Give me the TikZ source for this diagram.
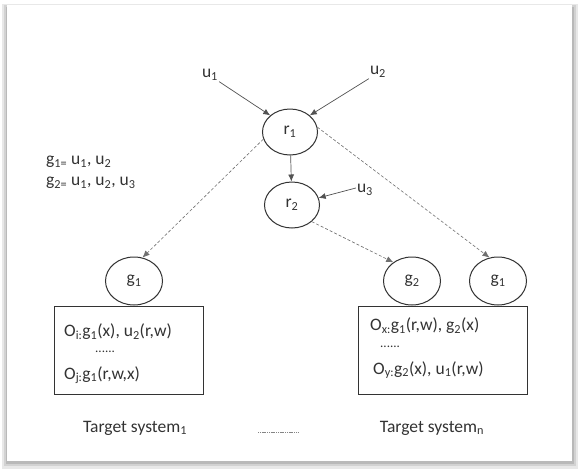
\documentclass[tikz,border=0pt]{standalone}
\usepackage{fontspec}
\setmainfont{Carlito}
\usetikzlibrary{shapes.geometric,arrows.meta}
\definecolor{ink}{HTML}{333333}
\tikzset{
  lbl/.style={font=\fontsize{17.5}{20}\selectfont, inner sep=1pt, text=ink},
  st/.style={font=\fontsize{17.5}{20}\selectfont, inner sep=0pt, anchor=west, text=ink},
  rnode/.style={ellipse, draw=ink, line width=1pt, minimum width=55pt, minimum height=46pt, inner sep=0pt, text=ink, font=\fontsize{17.5}{20}\selectfont},
  gnode/.style={ellipse, draw=ink, line width=1pt, minimum width=57pt, minimum height=48pt, inner sep=0pt, text=ink, font=\fontsize{17.5}{20}\selectfont},
  obox/.style={rectangle, draw=ink, line width=1pt, minimum height=88pt, inner sep=0pt},
  solidarrow/.style={draw=ink!85, line width=0.7pt, -{Latex[length=7pt,width=6pt]}},
  dasharrow/.style={draw=ink!70, line width=0.6pt, dash pattern=on 3pt off 2pt, -{Latex[length=7pt,width=6pt]}}
}
\begin{document}
\begin{tikzpicture}[x=1pt,y=-1pt]
\useasboundingbox (0,0) rectangle (581,474);
% frame with shadow
\fill[gray!18] (2,4) rectangle (578,469);
\fill[gray!35] (4,5) rectangle (576,466);
\fill[gray!55] (6,7) rectangle (574,464);
\fill[white] (7,5) rectangle (572,461);

% nodes
\node[lbl] (u1) at (210,75) {u\textsubscript{1}};
\node[lbl] (u2) at (378,72) {u\textsubscript{2}};
\node[lbl] (u3) at (365,190) {u\textsubscript{3}};
\node[rnode] (r1) at (290,132) {r\textsubscript{1}};
\node[rnode] (r2) at (292,205) {r\textsubscript{2}};

\node[st] (def1) at (46,162) {g\textsubscript{1=} u\textsubscript{1}, u\textsubscript{2}};
\node[st] (def2) at (46,183) {g\textsubscript{2=} u\textsubscript{1}, u\textsubscript{2}, u\textsubscript{3}};

\node[gnode] (g1a) at (134,281) {g\textsubscript{1}};
\node[gnode] (g2) at (412,281) {g\textsubscript{2}};
\node[gnode] (g1b) at (498,281) {g\textsubscript{1}};

\node[obox, minimum width=149pt] (box1) at (128.5,350) {};
\node[obox, minimum width=169pt] (box2) at (442.5,350) {};

\node[st] (o1) at (64,332) {O\textsubscript{i:}g\textsubscript{1}(x), u\textsubscript{2}(r,w)};
\node[st] (d1) at (95,352) {\fontsize{13}{14}\selectfont ......};
\node[st] (o2) at (64,375) {O\textsubscript{j:}g\textsubscript{1}(r,w,x)};

\node[st] (o3) at (370,326) {O\textsubscript{x:}g\textsubscript{1}(r,w), g\textsubscript{2}(x)};
\node[st] (d2) at (380,347) {\fontsize{13}{14}\selectfont ......};
\node[st] (o4) at (373,370) {O\textsubscript{y:}g\textsubscript{2}(x), u\textsubscript{1}(r,w)};

\node[lbl] (t1) at (135,428) {Target system\textsubscript{1}};
\node[lbl] (tn) at (432,428) {Target system\textsubscript{n}};
\coordinate (s1) at (258,432);
\coordinate (s2) at (298,432);
\draw[ink!60, line width=0.5pt, dash pattern=on 1.2pt off 0.6pt] (s1) -- (s2);

% connectors
\draw[solidarrow] (u1.south east) -- (r1.north west);
\draw[solidarrow] (u2.south west) -- (r1.north east);
\draw[solidarrow] (r1) -- (r2);
\draw[solidarrow] ([yshift=2pt]u3.west) -- (r2.15);
\draw[dasharrow] (r1.195) -- (g1a.70);
\draw[dasharrow] (r1.10) -- (g1b.110);
\draw[dasharrow] (r2.-40) -- (g2.135);
\end{tikzpicture}
\end{document}
